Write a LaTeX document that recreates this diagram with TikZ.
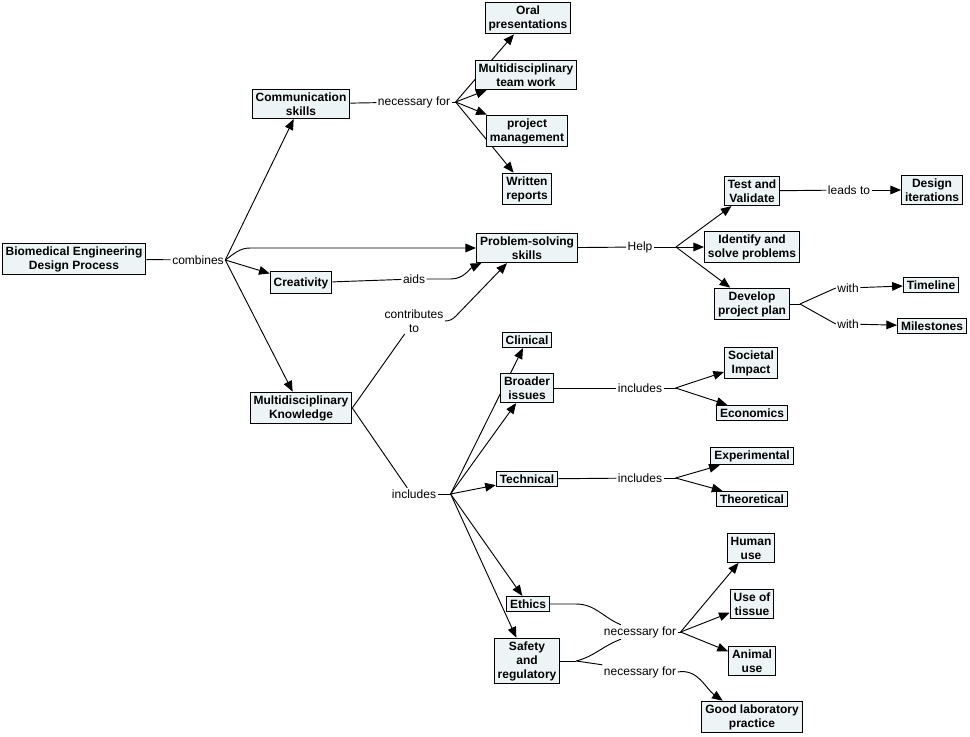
\documentclass[tikz,border=0pt]{standalone}
\usepackage{fontspec}
\setmainfont{Liberation Sans}
\usetikzlibrary{arrows.meta}
\definecolor{boxfill}{RGB}{237,244,246}
\pgfdeclarelayer{edges}
\pgfsetlayers{edges,main}
\begin{document}
\begin{tikzpicture}[x=0.75pt,y=-0.75pt,
  cn/.style={draw=black,line width=0.75pt,fill=boxfill,align=center,
    font=\fontsize{9}{10.5}\selectfont\bfseries,inner xsep=2.6pt,inner ysep=2.4pt},
  lb/.style={align=center,font=\fontsize{9}{10.5}\selectfont,inner sep=1pt},
  ln/.style={line width=0.7pt,draw=black},
  ar/.style={ln,-{Triangle[length=8pt,width=6.5pt]}}]
\useasboundingbox (0,0) rectangle (970,737);

% concepts and labels
\node[cn] (bedp) at (74,259) {Biomedical Engineering\\Design Process};
\node[lb] (combines) at (198,260) {combines};
\node[cn] (comm) at (301,104) {Communication\\skills};
\node[lb] (nf1) at (414,102) {necessary for};
\node[cn] (oral) at (528,18) {Oral\\presentations};
\node[cn] (mtw) at (526,75) {Multidisciplinary\\team work};
\node[cn] (pm) at (527,131) {project\\management};
\node[cn] (wr) at (527,189) {Written\\reports};
\node[cn] (ps) at (527,248) {Problem-solving\\skills};
\node[cn,minimum height=16.5pt] (cre) at (301,283) {Creativity};
\node[lb] (aids) at (414,279) {aids};
\node[lb] (contrib) at (414,321) {contributes\\to};
\node[cn] (mk) at (301,408) {Multidisciplinary\\Knowledge};
\node[lb] (help) at (640,247) {Help};
\node[cn] (test) at (752,191) {Test and\\Validate};
\node[lb] (leads) at (849,190) {leads to};
\node[cn] (di) at (932,190) {Design\\iterations};
\node[cn] (isp) at (752,247) {Identify and\\solve problems};
\node[cn] (dpp) at (752,304) {Develop\\project plan};
\node[lb] (with1) at (848,288) {with};
\node[lb] (with2) at (848,324) {with};
\node[cn] (time) at (931,285) {Timeline};
\node[cn] (mile) at (932,326) {Milestones};
\node[cn] (clin) at (527,340) {Clinical};
\node[cn] (broad) at (527,388) {Broader\\issues};
\node[lb] (inc1) at (640,388) {includes};
\node[cn] (soc) at (751,363) {Societal\\Impact};
\node[cn] (econ) at (752,413) {Economics};
\node[cn] (tech) at (527,479) {Technical};
\node[lb] (inc2) at (640,478) {includes};
\node[cn] (exp) at (752,456) {Experimental};
\node[cn] (theo) at (752,499) {Theoretical};
\node[lb] (inc0) at (414,494) {includes};
\node[cn] (human) at (751,548) {Human\\use};
\node[cn] (tissue) at (752,604) {Use of\\tissue};
\node[cn] (animal) at (752,661) {Animal\\use};
\node[cn] (ethics) at (528,604) {Ethics};
\node[cn] (safety) at (527,661) {Safety\\and\\regulatory};
\node[lb] (nf2) at (640,632) {necessary for};
\node[lb] (nf3) at (640,672) {necessary for};
\node[cn] (glp) at (752,717) {Good laboratory\\practice};

\begin{pgfonlayer}{edges}
% combines
\draw[ln] (bedp) -- (combines);
\coordinate (fc) at (combines.east);
\draw[ar] (fc) -- (comm);
\draw[ar] (fc) to[out=35,in=180] ++(25,-12) -- (ps);
\draw[ar] (fc) -- (cre);
\draw[ar] (fc) -- (mk);

% communication
\draw[ln] (comm) -- (nf1);
\draw[ln] (nf1.east) -- ++(4,0) coordinate (f1);
\draw[ar] (f1) -- (oral);
\draw[ar] (f1) -- (mtw);
\draw[ar] (f1) -- (pm);
\draw[ar] (f1) -- (wr);

% creativity, knowledge -> problem solving
\draw[ln] (cre) -- (aids);
\draw[ar] (aids.east) -- ++(24,0) to[out=0,in=205] ([xshift=4pt]ps.south west);
\draw[ln] (mk.east) -- ([xshift=-7pt]contrib.south);
\draw[ar] (contrib.east) to[out=0,in=225] ++(11,-5) -- ([xshift=-15pt]ps.south);

% problem solving
\draw[ln] (ps) -- (help);
\draw[ln] (help.east) -- ++(22,0) coordinate (fh);
\draw[ar] (fh) -- (test);
\draw[ar] (fh) -- (isp);
\draw[ar] (fh) -- (dpp);
\draw[ln] (test) -- (leads);
\draw[ar] (leads) -- (di);
\draw[ln] (dpp.east) -- ++(10,0) coordinate (fd);
\draw[ln] (fd) -- (with1.west);
\draw[ln] (fd) -- (with2.west);
\draw[ar] (with1) -- (time);
\draw[ar] (with2) -- (mile);

% knowledge includes
\draw[ln] (mk.east) -- ([xshift=-5pt]inc0.north);
\draw[ln] (inc0.east) -- ++(13,0) coordinate (f0);
\draw[ar] (f0) -- (clin);
\draw[ar] (f0) -- (broad);
\draw[ar] (f0) -- (tech);
\draw[ar] (f0) -- (ethics);
\draw[ar] (f0) -- (safety);

% broader / technical
\draw[ln] (broad) -- (inc1);
\draw[ln] (inc1.east) -- ++(12,0) coordinate (fb);
\draw[ar] (fb) -- (soc);
\draw[ar] (fb) -- (econ);
\draw[ln] (tech) -- (inc2);
\draw[ln] (inc2.east) -- ++(12,0) coordinate (ft);
\draw[ar] (ft) -- (exp);
\draw[ar] (ft) -- (theo);

% ethics / safety
\draw[ln] (ethics.east) -- ++(26,0) to[out=0,in=158] ([xshift=14pt]nf2.north west);
\draw[ln] (safety.east) -- ++(16,0) coordinate (fs);
\draw[ln] (fs) to[out=15,in=200] ([xshift=14pt]nf2.south west);
\draw[ln] (fs) -- (nf3.north west);
\draw[ln] (nf2.east) -- ++(3,0) coordinate (fn);
\draw[ar] (fn) -- (human);
\draw[ar] (fn) -- (tissue);
\draw[ar] (fn) -- (animal);
\draw[ar] (nf3.east) to[out=10,in=145] ([xshift=-22pt]glp.north);
\end{pgfonlayer}
\end{tikzpicture}
\end{document}
